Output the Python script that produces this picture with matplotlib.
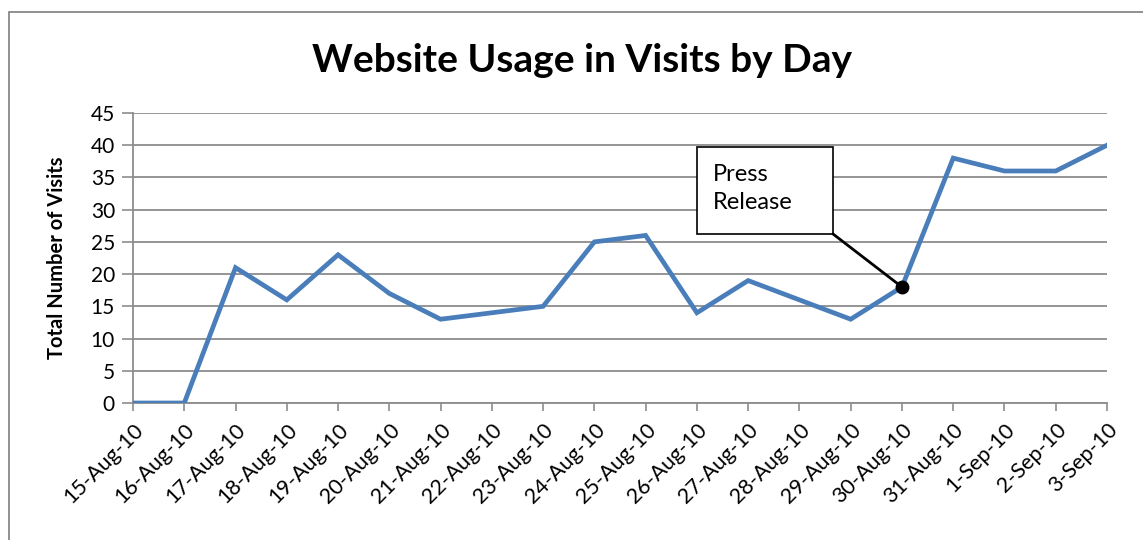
import matplotlib
matplotlib.use("Agg")
import matplotlib.pyplot as plt
from matplotlib.patches import Rectangle

days = ["15-Aug-10", "16-Aug-10", "17-Aug-10", "18-Aug-10", "19-Aug-10",
        "20-Aug-10", "21-Aug-10", "22-Aug-10", "23-Aug-10", "24-Aug-10",
        "25-Aug-10", "26-Aug-10", "27-Aug-10", "28-Aug-10", "29-Aug-10",
        "30-Aug-10", "31-Aug-10", "1-Sep-10", "2-Sep-10", "3-Sep-10"]
visits = [0, 0, 21, 16, 23, 17, 13, 14, 15, 25,
          26, 14, 19, 16, 13, 18, 38, 36, 36, 40]
y_ticks = [0, 5, 10, 15, 20, 25, 30, 35, 40, 45]
press_day = "30-Aug-10"

plt.rcParams['font.family'] = ['Lato', 'DejaVu Sans']

grid_col = "#8c8c8c"
line_col = "#4a7ebb"

fig = plt.figure(figsize=(11.43, 5.40), dpi=100)
ax = fig.add_axes([133 / 1143, 1 - 403 / 540, 974 / 1143, 290 / 540])

x = list(range(len(days)))
ax.plot(x, visits, color=line_col, lw=3.4, solid_joinstyle="miter", zorder=3)

# gridlines and axes
ax.set_xlim(0, len(days) - 1)
ax.set_ylim(0, 45)
ax.set_yticks(y_ticks)
ax.set_xticks(x)
ax.set_xticklabels(days, rotation=45, ha="right", va="top",
                   rotation_mode="anchor", fontsize=15.5)
ax.tick_params(axis="x", direction="out", length=6, width=1.2, color=grid_col, pad=6)
ax.tick_params(axis="y", direction="out", length=8, width=1.2, color=grid_col,
               labelsize=15, pad=5)
ax.yaxis.grid(True, color=grid_col, lw=1.3)
ax.set_axisbelow(True)
for side in ("top", "right"):
    ax.spines[side].set_visible(False)
for side in ("left", "bottom"):
    ax.spines[side].set_color(grid_col)
    ax.spines[side].set_linewidth(1.3)
ax.margins(x=0)

ax.set_ylabel("Total Number of Visits", fontsize=14.5, fontweight="bold", labelpad=17)
fig.text(582 / 1143, 1 - 60 / 540, "Website Usage in Visits by Day",
         ha="center", va="center", fontsize=28, fontweight="bold")

# press release callout
px = days.index(press_day)
py = visits[px]
ax.plot(px, py, "o", color="black", ms=9, zorder=5)
box_x0, box_x1, box_y0, box_y1 = 11.0, 13.66, 26.2, 39.7
ax.add_patch(Rectangle((box_x0, box_y0), box_x1 - box_x0, box_y1 - box_y0,
                       facecolor="white", edgecolor="black", lw=1.2, zorder=4))
ax.plot([box_x1, px], [box_y0, py], color="black", lw=2, zorder=4)
ax.text(box_x0 + 0.31, (box_y0 + box_y1) / 2 + 0.3, "Press\nRelease", fontsize=17,
        ha="left", va="center", linespacing=1.4, zorder=5)

# outer chart frame
fig.patches.append(Rectangle((9 / 1143, -0.1), 1.2, 1 - 12 / 540 + 0.1,
                             transform=fig.transFigure, fill=False,
                             edgecolor="#888888", lw=1.3))

fig.savefig("out.png", dpi=100)
